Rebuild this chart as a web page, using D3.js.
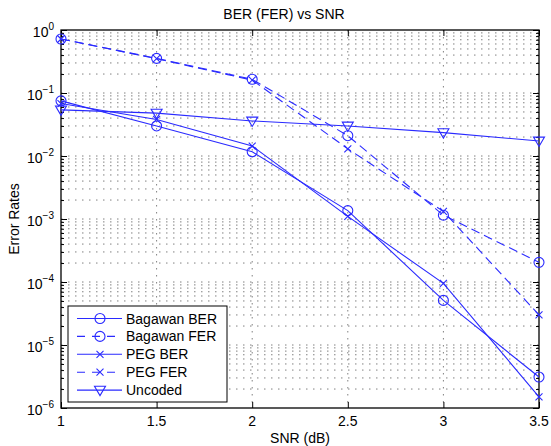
<!DOCTYPE html>
<html>
<head>
<meta charset="utf-8">
<script src="https://cdn.jsdelivr.net/npm/d3@7"></script>
<style>
  body { margin: 0; background: #fff; }
  svg { display: block; font-family: "Liberation Sans", Arial, Helvetica, sans-serif; }
</style>
</head>
<body>
<div id="chart"></div>
<script>
const width = 551;
const height = 446;

// data
const snr = [1, 1.5, 2, 2.5, 3, 3.5];
const bagawanBER = [0.075, 0.030, 0.0117, 0.00136, 5.1e-5, 3.1e-6];
const bagawanFER = [0.72, 0.355, 0.165, 0.021, 0.00115, 2.05e-4];
const pegBER = [0.068, 0.038, 0.0144, 0.0011, 9.5e-5, 1.5e-6];
const pegFER = [0.72, 0.35, 0.16, 0.013, 0.00132, 3.0e-5];
const uncoded = [0.054, 0.048, 0.036, 0.030, 0.0235, 0.0173];

const xTicks = [1, 1.5, 2, 2.5, 3, 3.5];
const yExponents = [0, -1, -2, -3, -4, -5, -6];

const seriesNames = ["Bagawan BER", "Bagawan FER", "PEG BER", "PEG FER", "Uncoded"];
const seriesValues = [bagawanBER, bagawanFER, pegBER, pegFER, uncoded];
const seriesDash = [null, "9,5", null, "9,5", null];
const seriesMarker = ["circle", "circle", "x", "x", "triangle"];

const blue = "#2a2aff";

const plot = {left: 61, right: 539, top: 30, bottom: 408};

const x = d3.scaleLinear().domain([1, 3.5]).range([plot.left, plot.right]);
const y = d3.scaleLog().domain([1e-6, 1]).range([plot.bottom, plot.top]);

const svg = d3.select("#chart").append("svg")
    .attr("width", width)
    .attr("height", height);

// grid values on the log axis: 1..9 x 10^n
const gridVals = [];
for (let e = -6; e < 0; e++) {
    for (let k = 1; k < 10; k++) gridVals.push(k * Math.pow(10, e));
}
gridVals.push(1);

const grid = svg.append("g");
grid.selectAll(".hgrid").data(gridVals.filter(v => v > 1e-6 && v < 1))
    .enter().append("line")
    .attr("x1", plot.left).attr("x2", plot.right)
    .attr("y1", d => y(d)).attr("y2", d => y(d))
    .attr("stroke", "#808080")
    .attr("stroke-width", 1)
    .attr("stroke-dasharray", "1.5,5.5");

grid.selectAll(".vgrid").data(xTicks.slice(1, -1))
    .enter().append("line")
    .attr("x1", d => x(d)).attr("x2", d => x(d))
    .attr("y1", plot.top).attr("y2", plot.bottom)
    .attr("stroke", "#808080")
    .attr("stroke-width", 1)
    .attr("stroke-dasharray", "1.5,5.5");

// axes: ticks pointing inward, MATLAB style box
const majorY = yExponents.map(e => Math.pow(10, e));
const minorY = gridVals.filter(v => !majorY.some(m => Math.abs(m - v) / v < 1e-9));

function styleAxis(g) {
    g.select(".domain").remove();
    g.selectAll("line").attr("stroke", "#000");
    g.selectAll("text").remove();
}

svg.append("g").attr("transform", `translate(${plot.left},0)`)
    .call(d3.axisLeft(y).tickValues(majorY).tickSize(-6)).call(styleAxis);
svg.append("g").attr("transform", `translate(${plot.left},0)`)
    .call(d3.axisLeft(y).tickValues(minorY).tickSize(-3)).call(styleAxis);
svg.append("g").attr("transform", `translate(${plot.right},0)`)
    .call(d3.axisRight(y).tickValues(majorY).tickSize(-6)).call(styleAxis);
svg.append("g").attr("transform", `translate(${plot.right},0)`)
    .call(d3.axisRight(y).tickValues(minorY).tickSize(-3)).call(styleAxis);
svg.append("g").attr("transform", `translate(0,${plot.bottom})`)
    .call(d3.axisBottom(x).tickValues(xTicks).tickSize(-6)).call(styleAxis);
svg.append("g").attr("transform", `translate(0,${plot.top})`)
    .call(d3.axisTop(x).tickValues(xTicks).tickSize(-6)).call(styleAxis);

svg.append("rect")
    .attr("x", plot.left).attr("y", plot.top)
    .attr("width", plot.right - plot.left)
    .attr("height", plot.bottom - plot.top)
    .attr("fill", "none")
    .attr("stroke", "#000")
    .attr("stroke-width", 1.3);

// tick labels
svg.append("g").selectAll("text").data(xTicks)
    .enter().append("text")
    .attr("x", d => x(d))
    .attr("y", plot.bottom + 18)
    .attr("text-anchor", "middle")
    .attr("font-size", 14)
    .text(d => d);

const yLabels = svg.append("g").selectAll("text").data(yExponents)
    .enter().append("text")
    .attr("x", 54)
    .attr("y", e => y(Math.pow(10, e)) + 7)
    .attr("text-anchor", "end")
    .attr("font-size", 14);
yLabels.append("tspan").text("10");
yLabels.append("tspan")
    .attr("dy", -7)
    .attr("font-size", 10)
    .text(e => e === 0 ? "0" : "\u2212" + (-e));

// titles
svg.append("text")
    .attr("x", 284).attr("y", 19)
    .attr("text-anchor", "middle")
    .attr("font-size", 14)
    .text("BER (FER) vs SNR");

svg.append("text")
    .attr("x", 300).attr("y", 443)
    .attr("text-anchor", "middle")
    .attr("font-size", 14)
    .text("SNR (dB)");

svg.append("text")
    .attr("transform", `translate(19,${(plot.top + plot.bottom) / 2}) rotate(-90)`)
    .attr("text-anchor", "middle")
    .attr("font-size", 14)
    .text("Error Rates");

// markers
function drawMarker(g, type, cx, cy) {
    if (type === "circle") {
        g.append("circle").attr("cx", cx).attr("cy", cy).attr("r", 5)
            .attr("fill", "none").attr("stroke", blue).attr("stroke-width", 1.1);
    } else if (type === "x") {
        const s = 3.5;
        g.append("path")
            .attr("d", `M${cx - s},${cy - s}L${cx + s},${cy + s}M${cx - s},${cy + s}L${cx + s},${cy - s}`)
            .attr("stroke", blue).attr("stroke-width", 1.1).attr("fill", "none");
    } else {
        const s = 5.5;
        g.append("path")
            .attr("d", `M${cx - s},${cy - s * 0.7}L${cx + s},${cy - s * 0.7}L${cx},${cy + s}Z`)
            .attr("stroke", blue).attr("stroke-width", 1.1).attr("fill", "none");
    }
}

const line = d3.line().x(d => x(d[0])).y(d => y(d[1]));

const plotArea = svg.append("g");
seriesValues.forEach((vals, i) => {
    const pts = snr.map((s, j) => [s, vals[j]]);
    plotArea.append("path")
        .datum(pts)
        .attr("d", line)
        .attr("fill", "none")
        .attr("stroke", blue)
        .attr("stroke-width", 1.1)
        .attr("stroke-dasharray", seriesDash[i]);
    pts.forEach(p => drawMarker(plotArea, seriesMarker[i], x(p[0]), y(p[1])));
});

// legend
const legend = svg.append("g");
const lg = {x: 68, y: 306, w: 159, h: 96};
legend.append("rect")
    .attr("x", lg.x).attr("y", lg.y)
    .attr("width", lg.w).attr("height", lg.h)
    .attr("fill", "#fff")
    .attr("stroke", "#000")
    .attr("stroke-width", 1);

seriesNames.forEach((name, i) => {
    const ly = lg.y + 12.5 + i * 17.9;
    legend.append("line")
        .attr("x1", lg.x + 9).attr("x2", lg.x + 54)
        .attr("y1", ly).attr("y2", ly)
        .attr("stroke", blue)
        .attr("stroke-width", 1.1)
        .attr("stroke-dasharray", seriesDash[i] ? "8,7" : null);
    drawMarker(legend, seriesMarker[i], lg.x + 32, ly);
    legend.append("text")
        .attr("x", lg.x + 58)
        .attr("y", ly + 5)
        .attr("font-size", 14)
        .text(name);
});
</script>
</body>
</html>
